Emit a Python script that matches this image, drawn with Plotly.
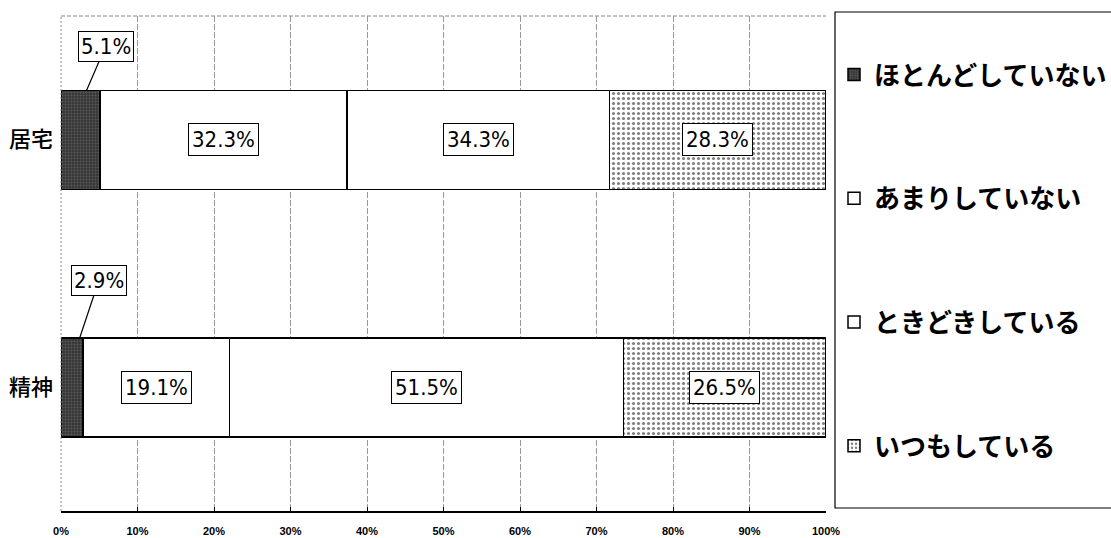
import plotly.graph_objects as go

categories = ["居宅", "精神"]
series_names = ["ほとんどしていない", "あまりしていない", "ときどきしている", "いつもしている"]
values = {
    "ほとんどしていない": [5.1, 2.9],
    "あまりしていない": [32.3, 19.1],
    "ときどきしている": [34.3, 51.5],
    "いつもしている": [28.3, 26.5],
}
x_ticks = [0, 10, 20, 30, 40, 50, 60, 70, 80, 90, 100]
x_ticklabels = [f"{t}%" for t in x_ticks]

styles = {
    "ほとんどしていない": dict(color="#363636", pattern=dict(shape=".", fgcolor="#808080", size=3, solidity=0.35)),
    "あまりしていない": dict(color="white"),
    "ときどきしている": dict(color="white"),
    "いつもしている": dict(color="white", pattern=dict(shape=".", fgcolor="black", size=5, solidity=0.3)),
}

BAR_W = 0.40
fig = go.Figure()
for name in series_names:
    st = styles[name]
    fig.add_trace(go.Bar(
        y=categories, x=values[name], name=name, orientation="h",
        width=BAR_W, legendgroup=name,
        marker=dict(color=st["color"], pattern=st.get("pattern", {}),
                    line=dict(color="black", width=1.5)),
        hoverinfo="skip",
    ))

label_font = dict(family="DejaVu Sans Condensed, Liberation Sans Narrow, sans-serif", size=22, color="black")
annotations = []
for ci, cat in enumerate(categories):
    cum = 0.0
    for si, name in enumerate(series_names):
        v = values[name][ci]
        mid = cum + v / 2
        if v >= 10:
            annotations.append(dict(x=mid, y=ci, xref="x", yref="y", text=f"{v:.1f}%",
                                    showarrow=False, font=label_font, bgcolor="white",
                                    bordercolor="black", borderwidth=1, borderpad=3))
        else:
            annotations.append(dict(x=mid + 0.8 if v > 4 else mid + 1.0, y=ci - BAR_W / 2, xref="x", yref="y",
                                    text=f"{v:.1f}%", showarrow=True, arrowhead=0, arrowwidth=1.2,
                                    arrowcolor="black", ax=19, ay=-44 if ci == 0 else -57,
                                    font=label_font, bgcolor="white",
                                    bordercolor="black", borderwidth=1, borderpad=2))
        cum += v

L, R, T, B = 61, 285, 16, 27
W, H = 1111, 538
pw, ph = W - L - R, H - T - B

def px_to_paper_x(px):
    return (px - L) / pw

def px_to_paper_y(py):
    return (H - B - py) / ph

shapes = [
    # legend frame
    dict(type="rect", xref="paper", yref="paper",
         x0=px_to_paper_x(835), x1=px_to_paper_x(1118),
         y0=px_to_paper_y(508), y1=px_to_paper_y(12),
         line=dict(color="black", width=1.2), fillcolor="rgba(0,0,0,0)", layer="above"),
    # top dashed border
    dict(type="line", xref="paper", yref="paper", x0=0, x1=1, y0=1, y1=1,
         line=dict(color="#888", width=1, dash="4px,2px")),
    # left dotted border
    dict(type="line", xref="paper", yref="paper", x0=0, x1=0, y0=0, y1=1,
         line=dict(color="#888", width=1, dash="2px,2px")),
]

fig.update_layout(
    width=W, height=H,
    margin=dict(l=L, r=R, t=T, b=B, autoexpand=False),
    barmode="stack",
    paper_bgcolor="white", plot_bgcolor="white",
    annotations=annotations,
    shapes=shapes,
    showlegend=True,
    legend=dict(
        x=px_to_paper_x(834), xanchor="left",
        y=px_to_paper_y(51), yanchor="top",
        font=dict(family="Noto Sans CJK JP", size=26, color="black", weight="bold"),
        bgcolor="rgba(0,0,0,0)", borderwidth=0,
        tracegroupgap=87, traceorder="grouped",
        itemclick=False, itemdoubleclick=False,
    ),
    xaxis=dict(
        range=[0, 100], tickvals=x_ticks, ticktext=x_ticklabels,
        showgrid=True, gridcolor="#999", griddash="6px,2px", gridwidth=1,
        showline=True, linecolor="black", linewidth=1.5,
        ticks="inside", ticklen=4, tickcolor="black",
        tickfont=dict(family="Liberation Sans, Arial, sans-serif", size=11, color="black", weight="bold"),
        ticklabelstandoff=9,
        zeroline=False, fixedrange=True, automargin=False,
    ),
    yaxis=dict(
        categoryorder="array", categoryarray=categories, autorange="reversed",
        showgrid=False, showline=False, ticks="",
        tickfont=dict(family="Noto Sans CJK JP", size=22, color="black", weight=500),
        ticklabelstandoff=7,
        fixedrange=True, automargin=False,
    ),
)

fig.write_html("out.html", config={"displayModeBar": False},
               post_script="document.body.style.margin='0';document.body.style.padding='0';")
